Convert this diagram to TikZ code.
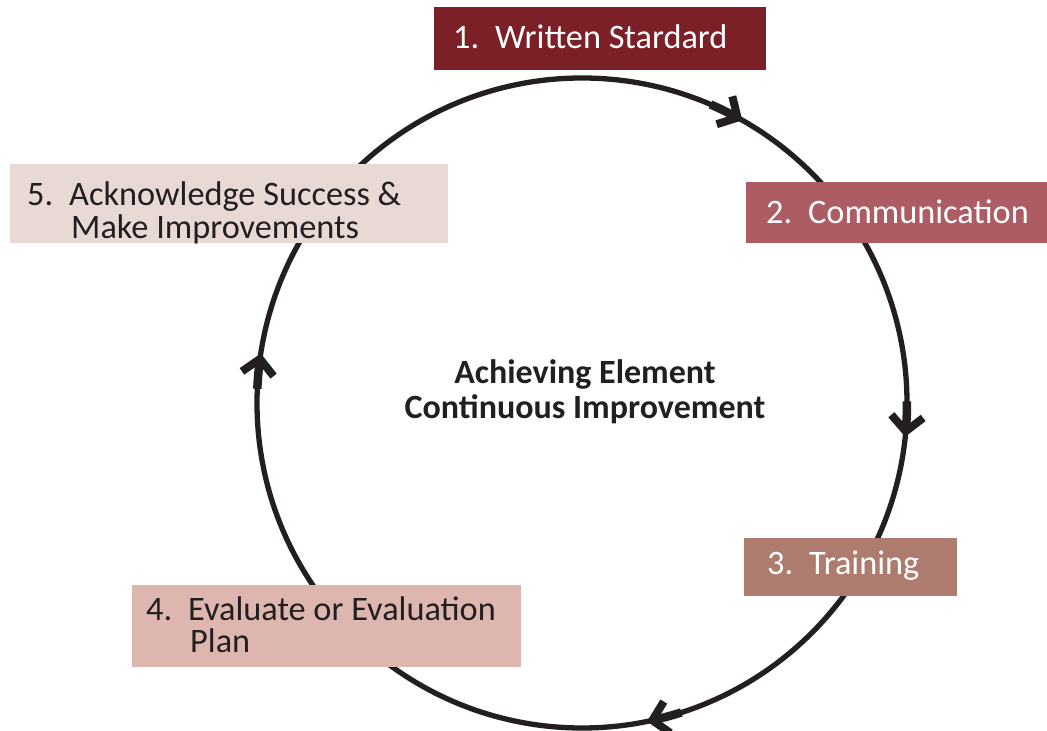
\documentclass[tikz,border=0pt]{standalone}
\usepackage{fontspec}
\setmainfont{Carlito}
\usetikzlibrary{calc}
\definecolor{ink}{HTML}{231F20}
\definecolor{cone}{HTML}{7A2026}
\definecolor{ctwo}{HTML}{AD5C64}
\definecolor{cthree}{HTML}{AE7C6E}
\definecolor{cfour}{HTML}{DDB7AF}
\definecolor{cfive}{HTML}{E8D9D4}
\tikzset{
  ring/.style={draw=ink, line width=5.3pt},
  stem/.style={draw=ink, line width=8.5pt},
  chev/.style={draw=ink, line width=8pt, line join=miter, line cap=butt},
  box/.style={draw=none, inner sep=0pt, anchor=south west},
  lbl/.style={anchor=base west, inner sep=0pt, font=\fontsize{34.3}{36}\selectfont},
  mid/.style={anchor=base, inner sep=0pt, font=\bfseries\fontsize{34}{36}\selectfont, text=ink}
}
\newcommand{\nm}[1]{\makebox[42pt][l]{#1}}
\newcommand{\ringarrow}[2]{% #1 name, #2 tip angle (clockwise travel)
  \coordinate (#1) at ($(O)+(#2:325)$);
  \draw[stem] ($(O)+(#2+6:325)$) arc[start angle=#2+6,end angle=#2+1,radius=325];
  \begin{scope}[shift={(#1)}, rotate=#2-90]
    \draw[chev] (-19,16) -- (-4,0) -- (-19,-16);
  \end{scope}}
\begin{document}
\begin{tikzpicture}[x=1pt,y=1pt]
\useasboundingbox (0,0) rectangle (1047,731);
\coordinate (O) at (582,328);
\draw[ring] (O) circle[radius=325];
% arrows on the ring
\ringarrow{a1}{60.7}
\ringarrow{a2}{-5.7}
\ringarrow{a3}{-78.2}
\ringarrow{a4}{171.5}
% boxes
\node[box, fill=cone, minimum width=332, minimum height=63] (b1) at (434,661) {};
\node[box, fill=ctwo, minimum width=301, minimum height=61] (b2) at (746,488) {};
\node[box, fill=cthree, minimum width=213, minimum height=58] (b3) at (744,135) {};
\node[box, fill=cfour, minimum width=389, minimum height=82] (b4) at (132,64) {};
\node[box, fill=cfive, minimum width=438, minimum height=79] (b5) at (10,488) {};
% labels
\node[lbl, text=white] (t1) at (453,682) {\nm{1.}Written Stardard};
\node[lbl, text=white] (t2) at (766,507) {\nm{2.}Communication};
\node[lbl, text=white] (t3) at (767,156) {\nm{3.}Training};
\node[lbl, text=ink] (t4a) at (146,110) {\nm{4.}Evaluate or Evaluation};
\node[lbl, text=ink] (t4b) at (190,78) {Plan};
\node[lbl, text=ink] (t5a) at (27,525) {\nm{5.}Acknowledge Success \&};
\node[lbl, text=ink] (t5b) at (71,492) {Make Improvements};
% centre
\node[mid] (c1) at (585,347) {Achieving Element};
\node[mid] (c2) at (585,312) {Continuous Improvement};
\end{tikzpicture}
\end{document}
